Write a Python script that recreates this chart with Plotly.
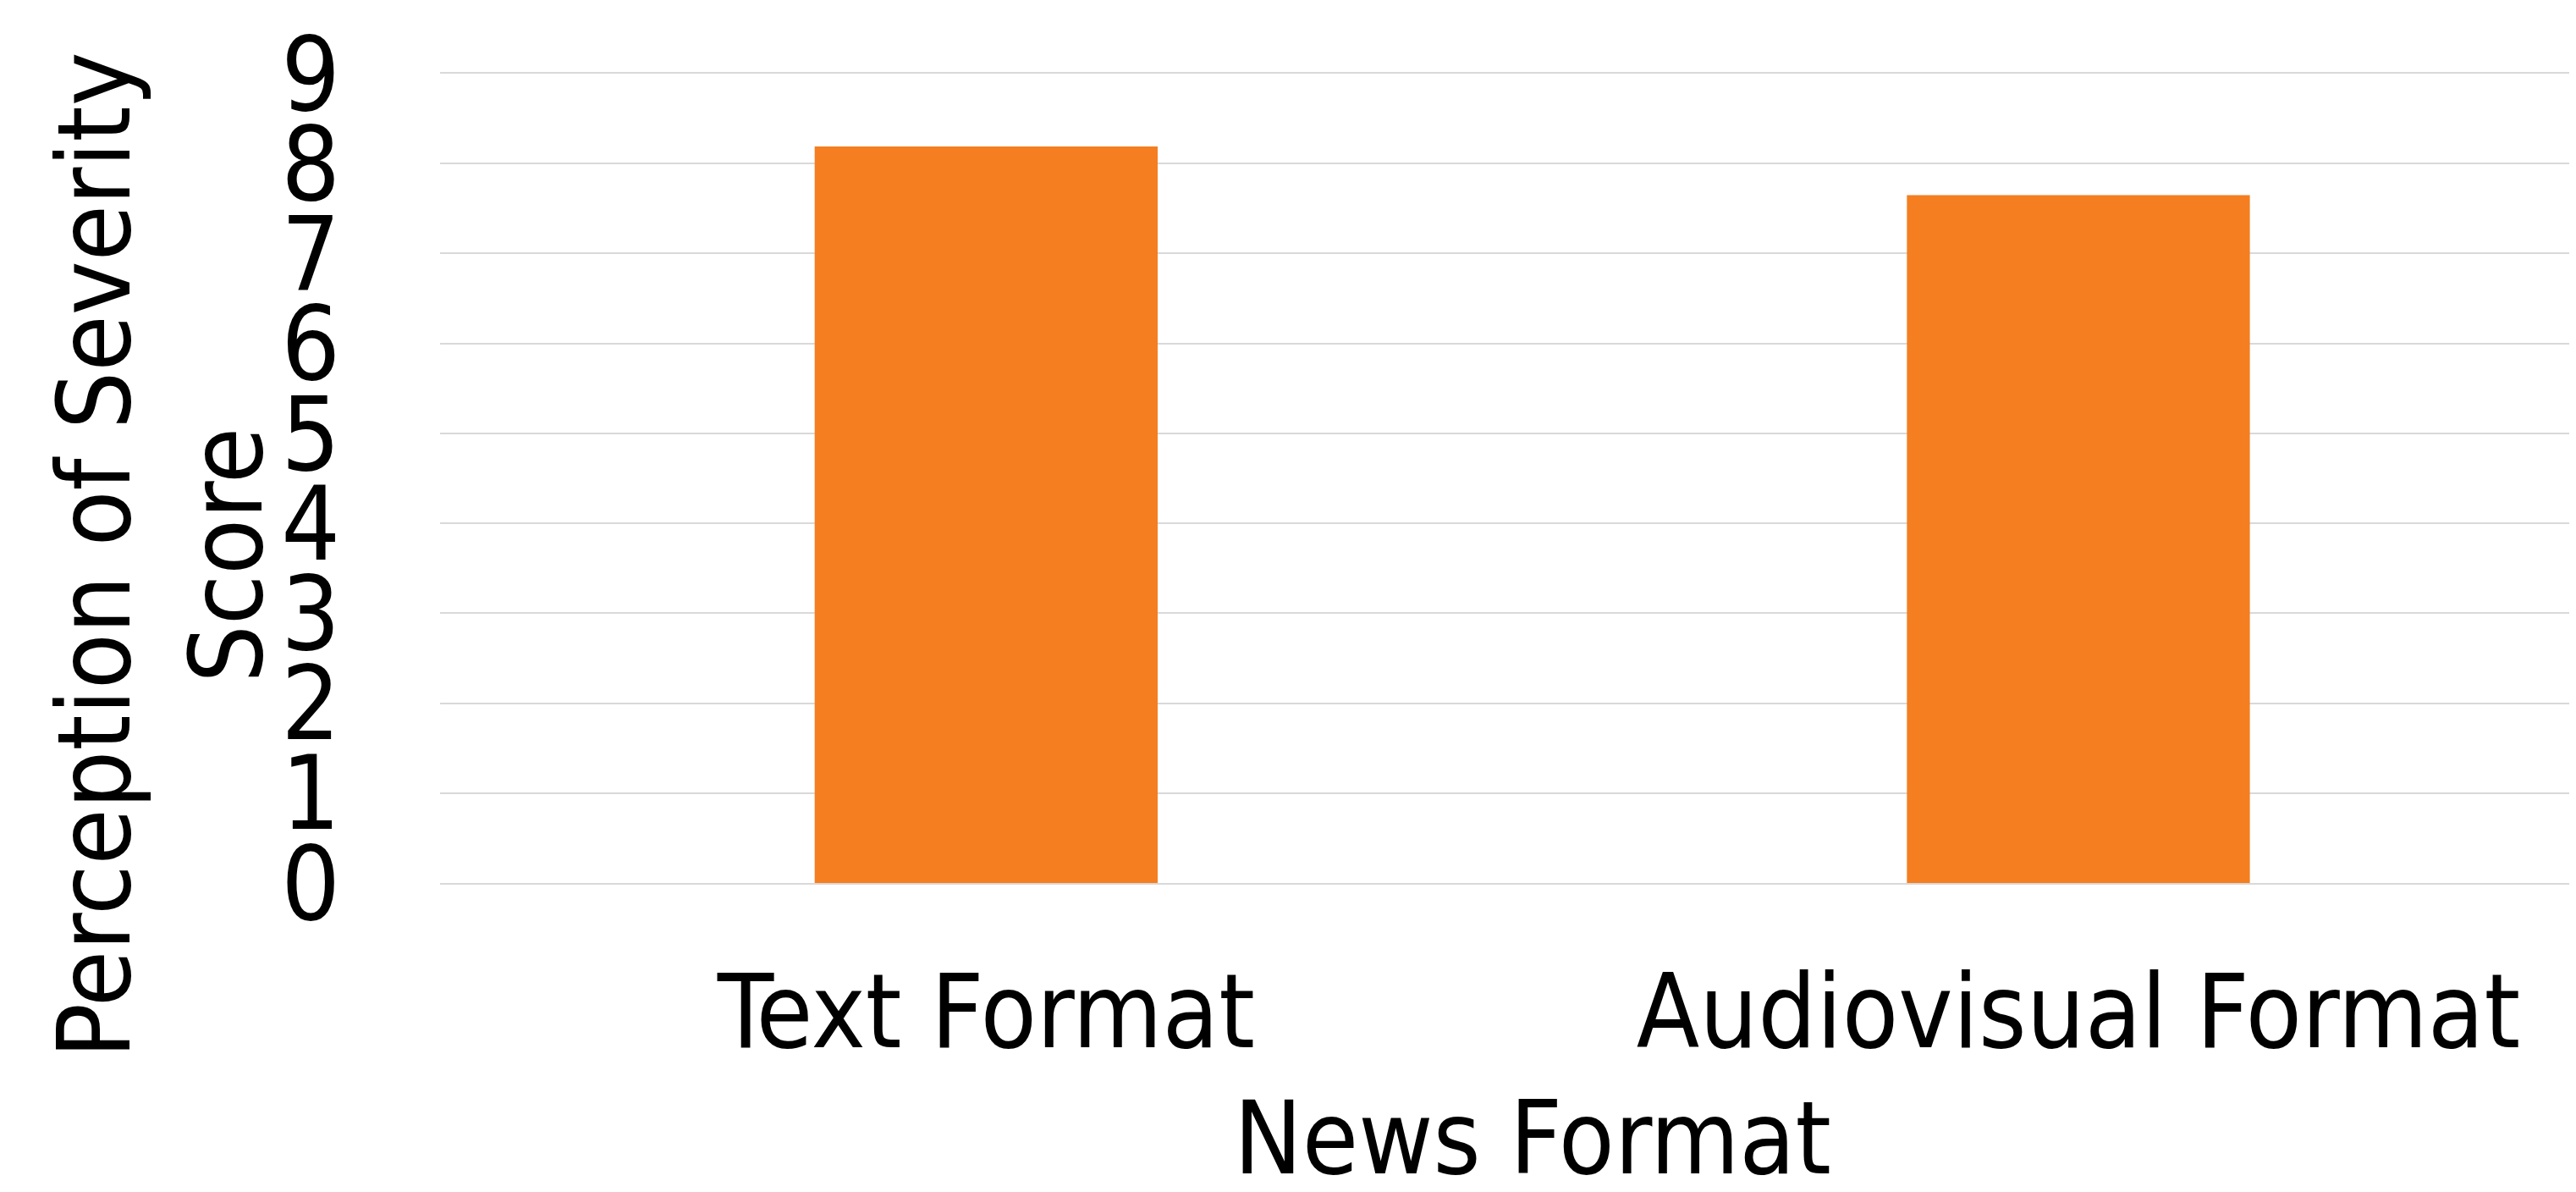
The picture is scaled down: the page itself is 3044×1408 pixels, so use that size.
import plotly.graph_objects as go

categories = ["Text Format", "Audiovisual Format"]
scores = [8.19, 7.65]
y_ticks = [0, 1, 2, 3, 4, 5, 6, 7, 8, 9]

FONT = "DejaVu Sans Condensed, DejaVu Sans, sans-serif"
W, H = 3044, 1408
ML, MR, MT, MB = 512, 0, 79, 373
GRID = "#d9d9d9"

fig = go.Figure()
fig.add_trace(go.Bar(
    x=categories, y=scores, width=0.314,
    marker=dict(color="#F47E20", line=dict(width=0)),
    hoverinfo="skip",
))

fig.update_layout(
    width=W, height=H,
    margin=dict(l=ML, r=MR, t=MT, b=MB, pad=0),
    paper_bgcolor="white", plot_bgcolor="white",
    showlegend=False,
    font=dict(family=FONT, color="black", size=120),
    xaxis=dict(
        type="category", range=[-0.5, 1.4618],
        showgrid=False, zeroline=False,
        showline=True, linecolor=GRID, linewidth=2, mirror=True,
        ticks="", ticklabelstandoff=47,
        tickfont=dict(size=121, family=FONT),
    ),
    yaxis=dict(
        range=[0, 9], tickvals=y_ticks, ticktext=[str(v) for v in y_ticks],
        showgrid=True, gridcolor=GRID, gridwidth=2,
        zeroline=False, showline=False, ticks="",
        ticklabelstandoff=117,
        tickfont=dict(size=122, family=FONT),
    ),
    annotations=[
        dict(text="Perception of Severity<br>Score", textangle=-90,
             xref="paper", yref="paper",
             x=(181 - ML) / (W - ML), y=(H - MB - 648) / (H - MT - MB),
             xanchor="center", yanchor="middle", showarrow=False,
             font=dict(size=120, family=FONT)),
        dict(text="News Format", xref="x", yref="paper",
             x=0.5, y=(H - MB - 1336) / (H - MT - MB),
             xanchor="center", yanchor="middle", showarrow=False,
             font=dict(size=120, family=FONT)),
    ],
)

fig.write_html("out.html")
